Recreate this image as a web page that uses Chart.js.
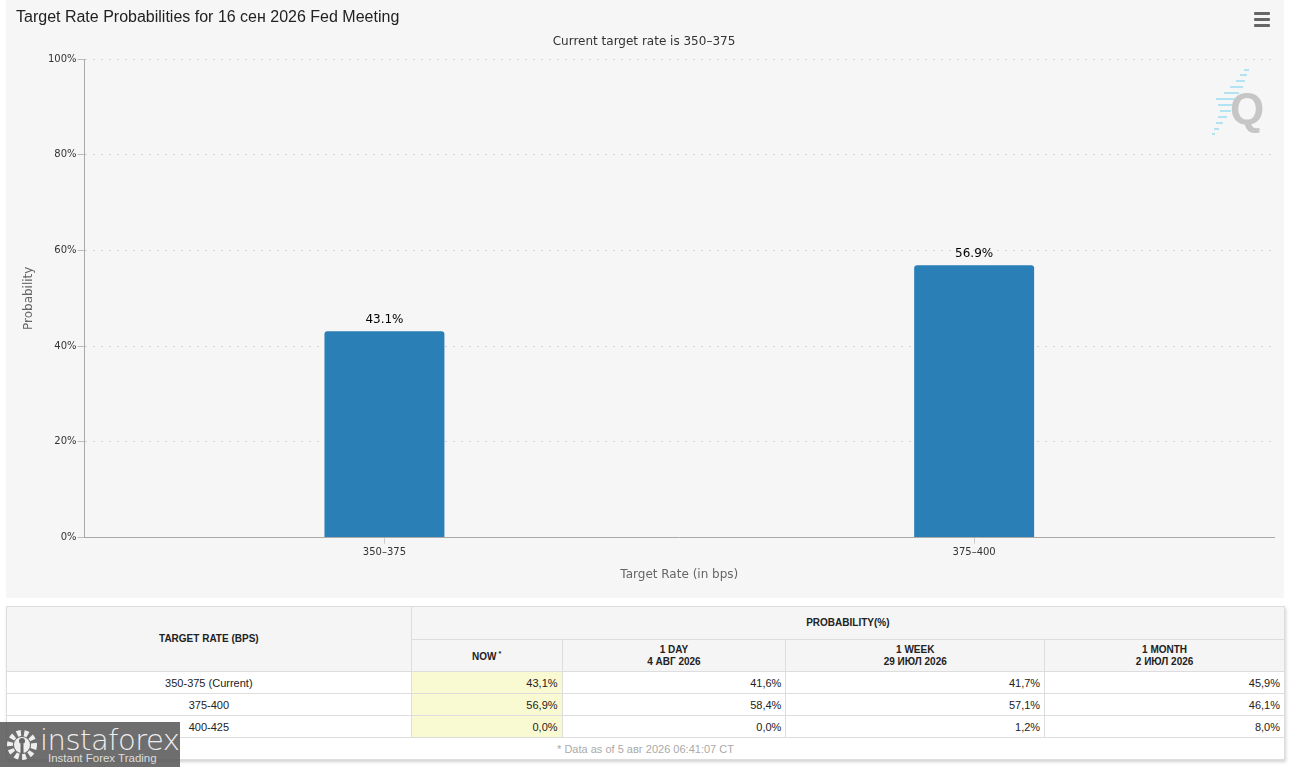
<!DOCTYPE html>
<html>
<head>
<meta charset="utf-8">
<script src="https://cdn.jsdelivr.net/npm/chart.js@4.4.1/dist/chart.umd.min.js"></script>
<style>
    body { margin: 0; background: #fff; width: 1291px; height: 767px; overflow: hidden; position: relative; font-family: "Liberation Sans", Arial, sans-serif; }
    #panel { position: absolute; left: 6px; top: 0; width: 1278px; height: 598px; background: #f6f6f6; }
    #panel canvas { position: absolute; left: 0; top: 0; }
    #chart-title { position: absolute; left: 10px; top: 8px; font-size: 16px; color: #222; white-space: nowrap; }
    #menu-btn { position: absolute; left: 1248px; top: 12px; width: 16px; }
    #menu-btn div { height: 3px; background: #666; border-radius: 1px; margin-bottom: 3px; }
    #q-mark { position: absolute; left: 1198px; top: 66px; }
    #prob-table { position: absolute; left: 6px; top: 606px; width: 1279px; border-collapse: collapse; font-size: 11px; color: #222; box-shadow: 1px 2px 3px rgba(0,0,0,0.18); }
    #prob-table th, #prob-table td { border: 1px solid #ddd; padding: 0 4px; }
    #prob-table th { background: #f5f5f5; font-size: 10px; font-weight: bold; text-align: center; line-height: 12px; }
    #prob-table td { background: #fff; text-align: right; height: 21px; }
    #prob-table td.rate { text-align: center; }
    #prob-table td.now { background: #fafad2; }
    #prob-table td.foot { text-align: center; color: #aaa; }
    #prob-table sup { font-size: 7px; }
    #logo { position: absolute; left: 0; top: 722px; width: 180px; height: 45px; background: rgba(85,85,85,0.85); color: #eee; }
    #logo .big { position: absolute; left: 40px; top: 1px; font-family: "DejaVu Sans", sans-serif; font-size: 29px; font-weight: 200; letter-spacing: -0.5px; }
    #logo .small { position: absolute; left: 48px; top: 30px; font-size: 11.5px; color: #ddd; }
    #logo svg { position: absolute; left: 5px; top: 6px; }
</style>
</head>
<body>
<div id="panel">
    <canvas id="rateChart" width="1278" height="598"></canvas>
    <div id="chart-title">Target Rate Probabilities for 16 сен 2026 Fed Meeting</div>
    <div id="menu-btn"><div></div><div></div><div></div></div>
    <svg id="q-mark" width="64" height="74">
        <g stroke="#b3e3f2" stroke-width="2">
            <line x1="40" y1="4" x2="45" y2="4"/><line x1="36" y1="9" x2="43" y2="9"/>
            <line x1="32" y1="15" x2="41" y2="15"/><line x1="26" y1="21" x2="39" y2="21"/>
            <line x1="20" y1="27" x2="35" y2="27"/><line x1="12" y1="33" x2="31" y2="33"/>
            <line x1="14" y1="39" x2="29" y2="39"/><line x1="16" y1="45" x2="27" y2="45"/>
            <line x1="14" y1="51" x2="23" y2="51"/><line x1="12" y1="57" x2="19" y2="57"/>
            <line x1="10" y1="63" x2="15" y2="63"/><line x1="8" y1="68" x2="11" y2="68"/>
        </g>
        <text x="43" y="58" text-anchor="middle" font-family="Liberation Sans, Arial" font-weight="bold" font-size="44" fill="#c6c6c6">Q</text>
    </svg>
</div>
<table id="prob-table"></table>
<div id="logo">
    <svg width="34" height="34" viewBox="0 0 34 34">
        <circle cx="17" cy="17" r="12" fill="none" stroke="#eee" stroke-width="6" stroke-dasharray="4 3.3"/>
        <circle cx="17" cy="17" r="8" fill="#eee"/>
        <circle cx="17" cy="13" r="3" fill="#666"/>
        <rect x="15.5" y="16" width="3" height="9" fill="#666"/>
    </svg>
    <div class="big">instaforex</div>
    <div class="small">Instant Forex Trading</div>
</div>
<script>
// chart data
const categories = ['350–375', '375–400'];
const probabilities = [43.1, 56.9];
const yMax = 100;
const yStep = 20;

// table data
const tableRates = ['350-375 (Current)', '375-400', '400-425'];
const periodLabels = ['NOW', '1 DAY', '1 WEEK', '1 MONTH'];
const periodDates = ['', '4 АВГ 2026', '29 ИЮЛ 2026', '2 ИЮЛ 2026'];
const probNow = ['43,1%', '56,9%', '0,0%'];
const prob1Day = ['41,6%', '58,4%', '0,0%'];
const prob1Week = ['41,7%', '57,1%', '1,2%'];
const prob1Month = ['45,9%', '46,1%', '8,0%'];
const dataAsOf = '* Data as of 5 авг 2026 06:41:07 CT';

const chartFont = '"DejaVu Sans", Verdana, sans-serif';

function renderTable() {
    const table = document.getElementById('prob-table');
    const colWidths = [405, 151, 224, 259, 240];
    let html = '<colgroup>' + colWidths.map(w => `<col style="width:${w}px">`).join('') + '</colgroup>';
    html += `<tr style="height:33px"><th rowspan="2">TARGET RATE (BPS)</th><th colspan="4">PROBABILITY(%)</th></tr>`;
    html += '<tr style="height:32px">' + periodLabels.map((p, i) => {
        if (i === 0) return `<th>${p}<sup> *</sup></th>`;
        return `<th>${p}<br>${periodDates[i]}</th>`;
    }).join('') + '</tr>';
    tableRates.forEach((r, i) => {
        html += `<tr><td class="rate">${r}</td><td class="now">${probNow[i]}</td><td>${prob1Day[i]}</td><td>${prob1Week[i]}</td><td>${prob1Month[i]}</td></tr>`;
    });
    html += `<tr><td class="foot" colspan="5">${dataAsOf}</td></tr>`;
    table.innerHTML = html;
}

// the x axis keeps a little inner padding at both ends, like the original
const axisInset = {
    id: 'axisInset',
    afterLayout(chart) {
        const x = chart.scales.x;
        x._startPixel += 5;
        x._endPixel -= 5;
        x._length -= 10;
    }
};

const barLabels = {
    id: 'barLabels',
    afterDatasetsDraw(chart) {
        const ctx = chart.ctx;
        const meta = chart.getDatasetMeta(0);
        ctx.save();
        ctx.font = '12px ' + chartFont;
        ctx.fillStyle = '#000';
        ctx.textAlign = 'center';
        ctx.textBaseline = 'bottom';
        meta.data.forEach((bar, i) => {
            ctx.fillText(probabilities[i].toFixed(1) + '%', bar.x, bar.y - 5);
        });
        ctx.restore();
    }
};

function renderChart() {
    const ctx = document.getElementById('rateChart').getContext('2d');
    new Chart(ctx, {
        type: 'bar',
        data: {
            labels: categories,
            datasets: [{
                label: 'Probability',
                data: probabilities,
                backgroundColor: '#2a7fb7',
                borderRadius: 3,
                barPercentage: 0.2034,
                categoryPercentage: 1.0
            }]
        },
        options: {
            responsive: false,
            animation: false,
            layout: { padding: { left: 8, right: 10, top: 0, bottom: 12 } },
            plugins: {
                legend: { display: false },
                tooltip: { enabled: false },
                title: { display: false },
                subtitle: {
                    display: true,
                    text: 'Current target rate is 350–375',
                    color: '#333',
                    font: { family: chartFont, size: 12 },
                    padding: { top: 35, bottom: 9.6 }
                }
            },
            scales: {
                x: {
                    grid: { display: true, drawOnChartArea: false, drawTicks: true, tickLength: 6, offset: false, color: '#ccc', tickColor: '#ccc' },
                    border: { display: true, color: '#aaa', width: 1 },
                    ticks: { color: '#333', padding: 3, font: { family: chartFont, size: 10 } },
                    title: { display: true, text: 'Target Rate (in bps)', color: '#666', font: { family: chartFont, size: 12 }, padding: { top: 6, bottom: 4 } }
                },
                y: {
                    min: 0,
                    max: yMax,
                    grid: { color: '#d4d4d4', lineWidth: 1, tickLength: 7, tickColor: '#bbb', tickBorderDash: [] },
                    border: { display: true, color: '#aaa', width: 1, dash: [2, 6] },
                    ticks: {
                        stepSize: yStep,
                        padding: 1,
                        color: '#333',
                        font: { family: chartFont, size: 10 },
                        callback: v => v + '%'
                    },
                    title: { display: true, text: 'Probability', color: '#666', font: { family: chartFont, size: 12 }, padding: { top: 8, bottom: 10.6 } }
                }
            }
        },
        plugins: [axisInset, barLabels]
    });
}

document.addEventListener('DOMContentLoaded', () => {
    renderTable();
    renderChart();
});
</script>
</body>
</html>
